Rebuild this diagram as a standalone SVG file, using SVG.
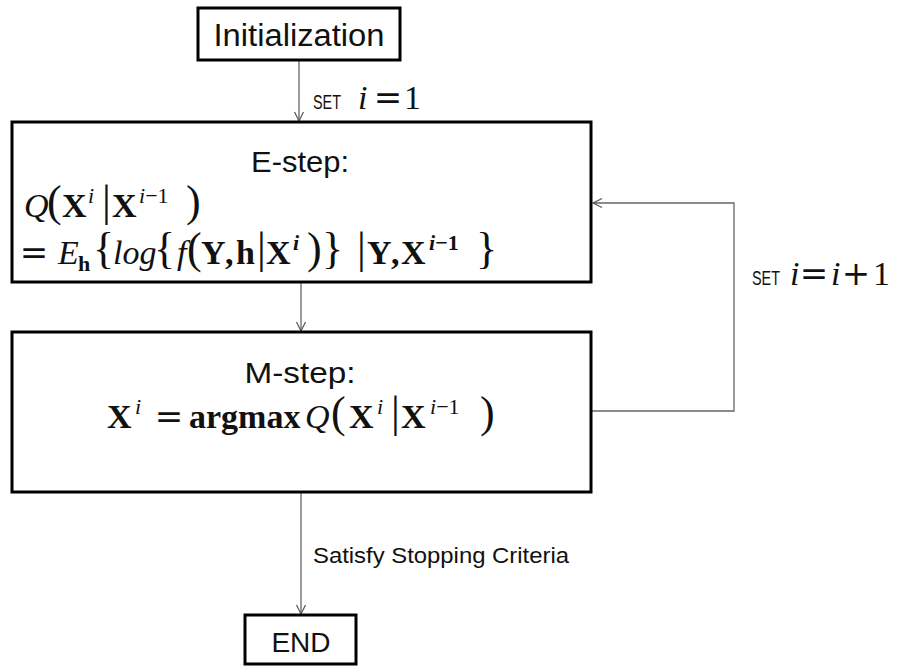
<svg xmlns="http://www.w3.org/2000/svg" width="898" height="666" viewBox="0 0 898 666">
<defs>
<marker id="arr" markerUnits="userSpaceOnUse" markerWidth="12" markerHeight="12" refX="10" refY="6" orient="auto">
<path d="M1,1.5 L10,6 L1,10.5" fill="none" stroke="#555" stroke-width="1.2"/>
</marker>
<style>
.box{fill:#fff;stroke:#000;stroke-width:3}
.con{fill:none;stroke:#666;stroke-width:1.3}
.sans{font-family:"Liberation Sans",Arial,sans-serif;fill:#111}
.m{font-family:"Liberation Serif","Times New Roman",serif;fill:#111;font-size:34px}
.it{font-style:italic}
.b{font-weight:bold}
.op{font-family:"DejaVu Serif",serif;font-weight:normal;font-style:normal;text-anchor:middle}
.big{font-size:44px;font-weight:normal;font-style:normal}
.sup{font-size:22px}
</style>
</defs>
<rect width="898" height="666" fill="#fff"/>

<g id="connectors">
<line class="con" x1="299" y1="61" x2="299" y2="121" marker-end="url(#arr)"/>
<line class="con" x1="301" y1="283" x2="301" y2="331" marker-end="url(#arr)"/>
<polyline class="con" points="592,411 734,411 734,203 593,203" marker-end="url(#arr)"/>
<line class="con" x1="301" y1="493" x2="301" y2="614" marker-end="url(#arr)"/>
<g id="label-set1">
<text class="sans" font-size="20" transform="translate(313,109) scale(0.72,1)">SET</text>
<text class="m it" x="358" y="109" font-size="23">i</text>
<text class="m op" x="388" y="109" font-size="24">=</text>
<text class="m" x="404" y="109" font-size="23">1</text>
</g>
<g id="label-setinc">
<text class="sans" font-size="20" transform="translate(752,285) scale(0.72,1)">SET</text>
<text class="m it" x="790" y="285" font-size="23">i</text>
<text class="m op" x="814" y="285" font-size="24">=</text>
<text class="m it" x="831" y="285" font-size="23">i</text>
<text class="m op" x="856" y="285" font-size="27">+</text>
<text class="m" x="873" y="285" font-size="23">1</text>
</g>
<text id="label-stop" class="sans" x="313" y="563" font-size="22" textLength="256" lengthAdjust="spacingAndGlyphs">Satisfy Stopping Criteria</text>
</g>

<g id="init">
<rect class="box" x="198" y="8" width="202" height="52"/>
<text class="sans" x="299" y="46" font-size="31" text-anchor="middle" textLength="171" lengthAdjust="spacingAndGlyphs">Initialization</text>
</g>

<g id="estep">
<rect class="box" x="12" y="122" width="579" height="160"/>
<text class="sans" x="300" y="172" font-size="30" text-anchor="middle" textLength="98" lengthAdjust="spacingAndGlyphs">E-step:</text>
<!-- line 1 -->
<text class="m it" x="24" y="217">Q</text>
<text class="m big" x="47" y="216">(</text>
<text class="m b" x="62" y="217">X</text>
<text class="m it sup" x="88" y="203">i</text>
<text class="m big" x="102" y="216">|</text>
<text class="m b" x="112" y="217">X</text>
<text class="m sup" x="139" y="203"><tspan class="it">i</tspan>−1</text>
<text class="m big" x="186" y="216">)</text>
<!-- line 2 -->
<text class="m op" x="34" y="264" font-size="30">=</text>
<text class="m it" x="58" y="264">E</text>
<text class="m b sup" x="78" y="271">h</text>
<text class="m big" x="93" y="263" font-size="40">{</text>
<text class="m it" x="113" y="264">log</text>
<text class="m big" x="154" y="263" font-size="40">{</text>
<text class="m it" x="177" y="264">f</text>
<text class="m big" x="187" y="263">(</text>
<text class="m b" x="201" y="264">Y</text>
<text class="m b" x="225" y="264">,</text>
<text class="m b" x="236" y="264">h</text>
<text class="m big" x="257" y="263">|</text>
<text class="m b" x="266" y="264">X</text>
<text class="m b it sup" x="293" y="250">i</text>
<text class="m big" x="307" y="263">)</text>
<text class="m big" x="322" y="263" font-size="40">}</text>
<text class="m big" x="357" y="263">|</text>
<text class="m b" x="367" y="264">Y</text>
<text class="m b" x="391" y="264">,</text>
<text class="m b" x="401" y="264">X</text>
<text class="m b sup" x="429" y="250"><tspan class="it">i</tspan>−1</text>
<text class="m big" x="476" y="263" font-size="40">}</text>
</g>

<g id="mstep">
<rect class="box" x="12" y="332" width="579" height="160"/>
<text class="sans" x="300" y="383" font-size="30" text-anchor="middle" textLength="111" lengthAdjust="spacingAndGlyphs">M-step:</text>
<text class="m b" x="107" y="428">X</text>
<text class="m it sup" x="135" y="414">i</text>
<text class="m op" x="169" y="428" font-size="30">=</text>
<text class="m b" x="189" y="428">argmax</text>
<text class="m it" x="305" y="428">Q</text>
<text class="m big" x="331" y="427">(</text>
<text class="m b" x="349" y="428">X</text>
<text class="m it sup" x="377" y="414">i</text>
<text class="m big" x="391" y="427">|</text>
<text class="m b" x="401" y="428">X</text>
<text class="m sup" x="430" y="414"><tspan class="it">i</tspan>−1</text>
<text class="m big" x="480" y="427">)</text>
</g>

<g id="end">
<rect class="box" x="245" y="615" width="111" height="49"/>
<text class="sans" x="301" y="652" font-size="28" text-anchor="middle">END</text>
</g>
</svg>
